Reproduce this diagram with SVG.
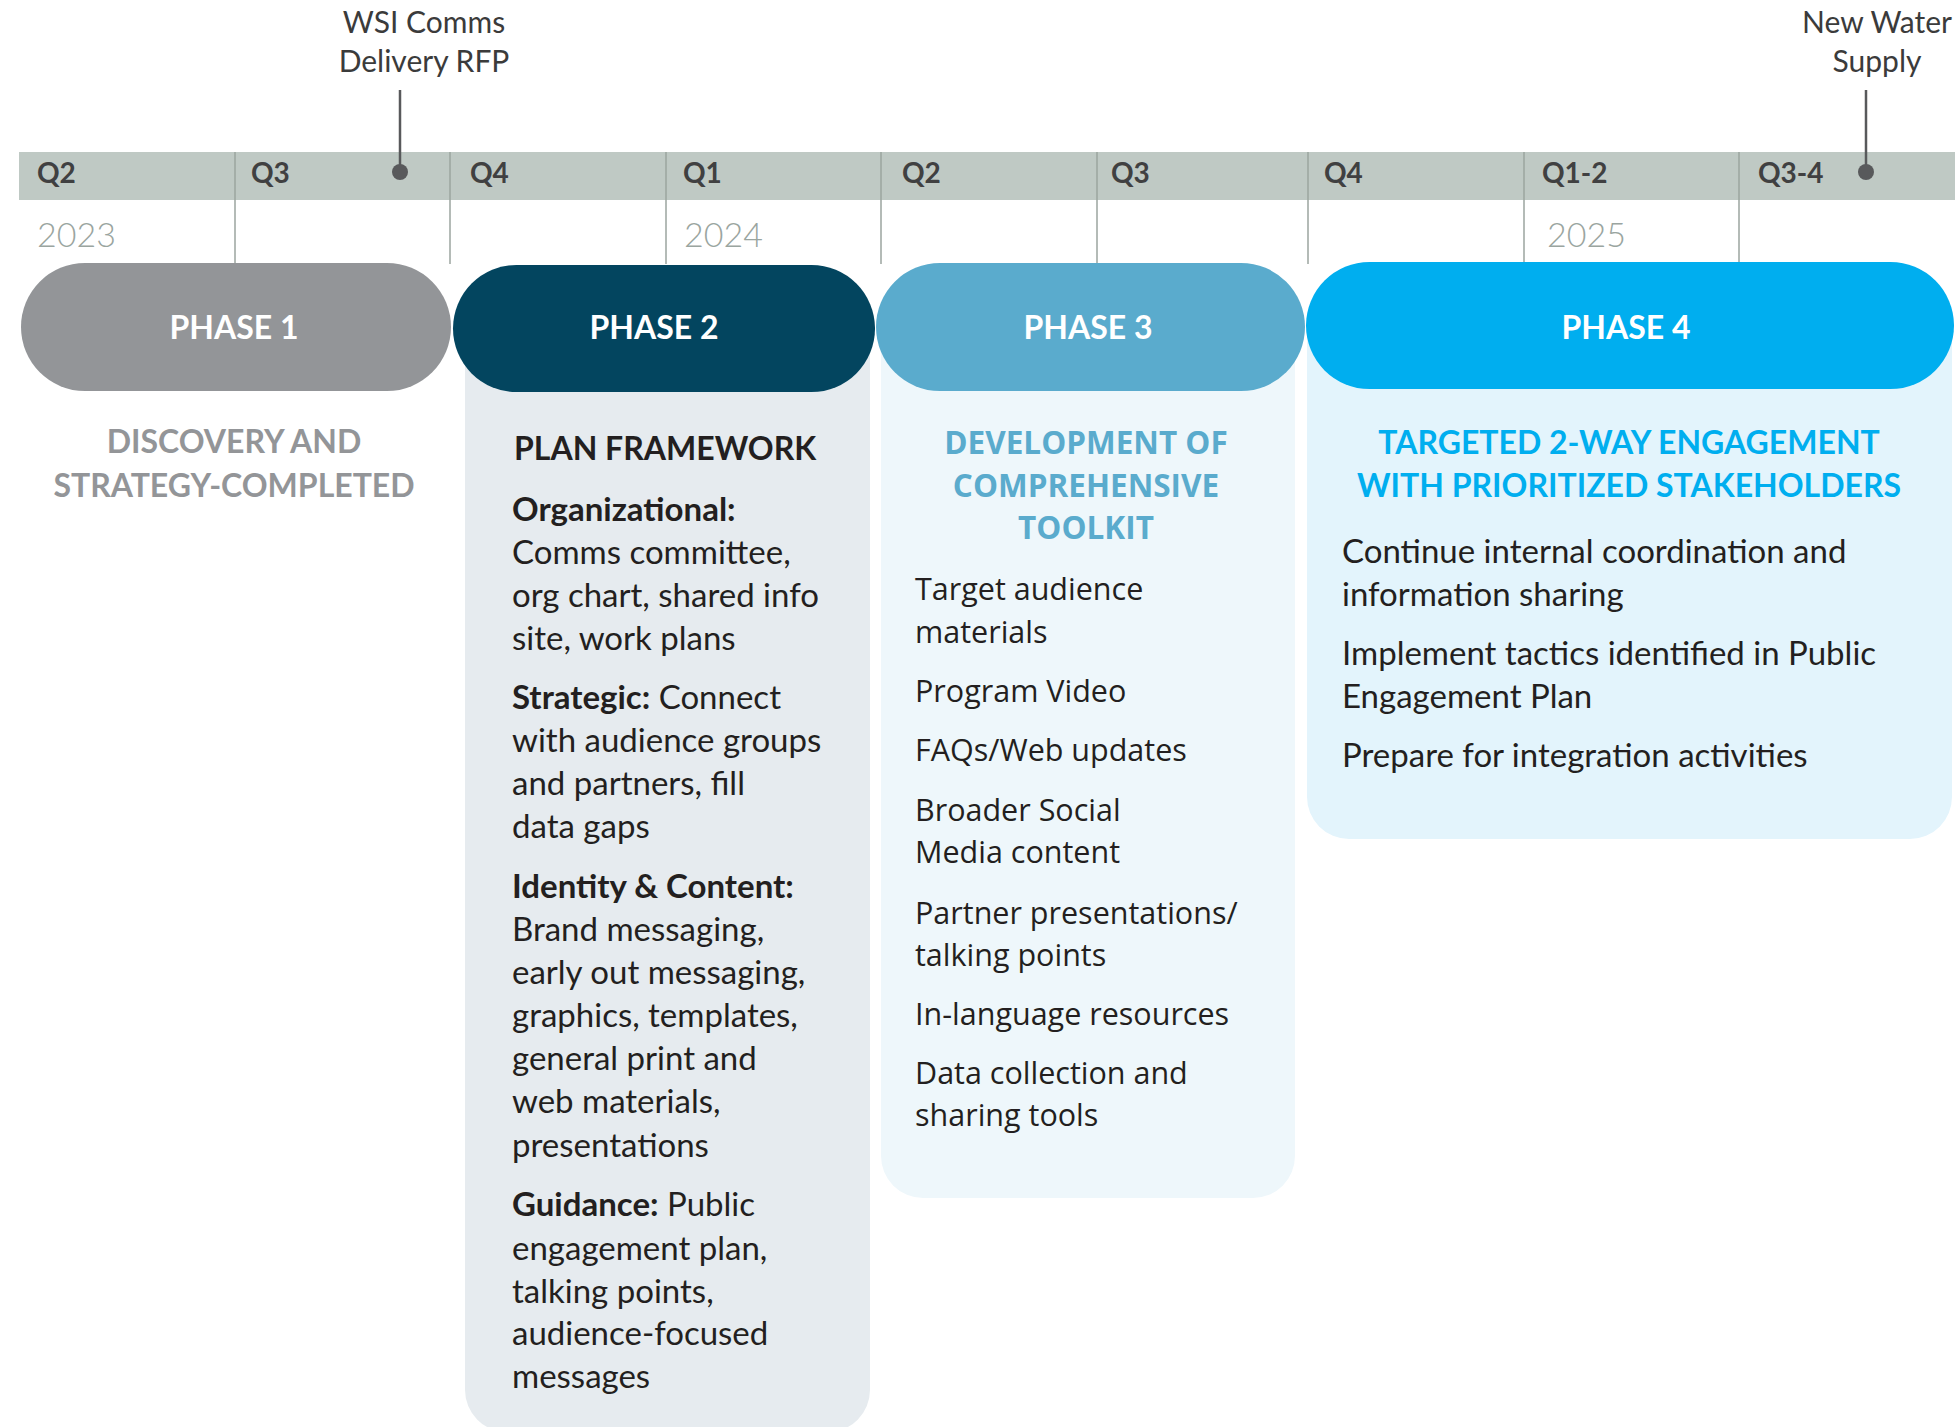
<svg xmlns="http://www.w3.org/2000/svg" width="1960" height="1427" viewBox="0 0 1960 1427">
<style>
.q{font-family:Lato,"Liberation Sans",sans-serif;font-weight:700;font-size:28px;fill:#404041}
.yr{font-family:Lato,"Liberation Sans",sans-serif;font-weight:300;font-size:34px;fill:#9aa5a0}
.ms{font-family:Lato,"Liberation Sans",sans-serif;font-size:30px;fill:#3b3b3b;text-anchor:middle}
.ph{font-family:Lato,"Liberation Sans",sans-serif;font-weight:700;font-size:32px;fill:#ffffff;text-anchor:middle}
.ttl{font-family:Lato,"Liberation Sans",sans-serif;font-weight:700;font-size:32px;text-anchor:middle}
.ttl2{font-family:Lato,"Liberation Sans",sans-serif;font-weight:700;font-size:32px;fill:#231f20}
.body{font-family:Lato,"Liberation Sans",sans-serif;font-size:33px;fill:#231f20}
.b{font-weight:700}
.body3{font-family:"Open Sans","Liberation Sans",sans-serif;font-size:30.5px;fill:#231f20}
.ttl3{font-family:"Open Sans","Liberation Sans",sans-serif;font-weight:700;font-size:31.5px;fill:#5aabcd;text-anchor:middle}
.div{stroke:#9ba59f;stroke-width:1.5}
.pin{stroke:#58595b;stroke-width:2.5}
</style>
<g id="timeline">
  <rect x="19" y="152" width="1936" height="48" fill="#bfc9c4"/>
  <g id="dividers">
    <line class="div" x1="235" y1="152" x2="235" y2="264"/>
    <line class="div" x1="450" y1="152" x2="450" y2="264"/>
    <line class="div" x1="666" y1="152" x2="666" y2="264"/>
    <line class="div" x1="881" y1="152" x2="881" y2="264"/>
    <line class="div" x1="1097" y1="152" x2="1097" y2="264"/>
    <line class="div" x1="1308" y1="152" x2="1308" y2="264"/>
    <line class="div" x1="1524" y1="152" x2="1524" y2="264"/>
    <line class="div" x1="1739" y1="152" x2="1739" y2="264"/>
  </g>
  <g id="quarters">
    <text class="q" x="37" y="183">Q2</text>
    <text class="q" x="251" y="183">Q3</text>
    <text class="q" x="470" y="183">Q4</text>
    <text class="q" x="683" y="183">Q1</text>
    <text class="q" x="902" y="183">Q2</text>
    <text class="q" x="1111" y="183">Q3</text>
    <text class="q" x="1324" y="183">Q4</text>
    <text class="q" x="1542" y="183">Q1-2</text>
    <text class="q" x="1758" y="183">Q3-4</text>
  </g>
  <g id="years">
    <text class="yr" x="37" y="247">2023</text>
    <text class="yr" x="684" y="247">2024</text>
    <text class="yr" x="1547" y="247">2025</text>
  </g>
</g>
<g id="milestone-wsi">
  <text class="ms" x="424" y="33">WSI Comms</text>
  <text class="ms" x="424" y="72">Delivery RFP</text>
  <line class="pin" x1="400" y1="90" x2="400" y2="170"/>
  <circle cx="400" cy="172" r="8" fill="#58595b"/>
</g>
<g id="milestone-water">
  <text class="ms" x="1877" y="33">New Water</text>
  <text class="ms" x="1877" y="72">Supply</text>
  <line class="pin" x1="1866" y1="90" x2="1866" y2="170"/>
  <circle cx="1866" cy="172" r="8" fill="#58595b"/>
</g>
<g id="connectors"></g>
<g id="phase1">
  <rect x="21" y="263" width="430" height="128" rx="64" fill="#939598"/>
  <text class="ph" x="234" y="339">PHASE 1</text>
  <text class="ttl" fill="#939598" x="234" y="453">DISCOVERY AND</text>
  <text class="ttl" fill="#939598" x="234" y="497">STRATEGY-COMPLETED</text>
</g>
<g id="phase2">
  <rect x="465" y="300" width="405" height="1132" rx="42" fill="#e6ebef"/>
  <rect x="453" y="265" width="422" height="127" rx="63.5" fill="#03455f"/>
  <text class="ph" x="654" y="339">PHASE 2</text>
  <text class="ttl2" x="514" y="460">PLAN FRAMEWORK</text>
  <text class="body">
    <tspan class="b" x="512" y="521">Organizational:</tspan>
    <tspan x="512" y="564">Comms committee,</tspan>
    <tspan x="512" y="607">org chart, shared info</tspan>
    <tspan x="512" y="650">site, work plans</tspan>
    <tspan class="b" x="512" y="709">Strategic:</tspan><tspan> Connect</tspan>
    <tspan x="512" y="752">with audience groups</tspan>
    <tspan x="512" y="795">and partners, fill</tspan>
    <tspan x="512" y="838">data gaps</tspan>
    <tspan class="b" x="512" y="898">Identity &amp; Content:</tspan>
    <tspan x="512" y="941">Brand messaging,</tspan>
    <tspan x="512" y="984">early out messaging,</tspan>
    <tspan x="512" y="1027">graphics, templates,</tspan>
    <tspan x="512" y="1070">general print and</tspan>
    <tspan x="512" y="1113">web materials,</tspan>
    <tspan x="512" y="1157">presentations</tspan>
    <tspan class="b" x="512" y="1216">Guidance:</tspan><tspan> Public</tspan>
    <tspan x="512" y="1260">engagement plan,</tspan>
    <tspan x="512" y="1303">talking points,</tspan>
    <tspan x="512" y="1345">audience-focused</tspan>
    <tspan x="512" y="1388">messages</tspan>
  </text>
</g>
<g id="phase3">
  <rect x="881" y="300" width="414" height="898" rx="42" fill="#eef7fb"/>
  <rect x="876" y="263" width="429" height="128" rx="64" fill="#5aabcd"/>
  <text class="ph" x="1088" y="339">PHASE 3</text>
  <text class="ttl3" x="1086" y="454">DEVELOPMENT OF</text>
  <text class="ttl3" x="1086" y="497">COMPREHENSIVE</text>
  <text class="ttl3" x="1086" y="539">TOOLKIT</text>
  <text class="body3">
    <tspan x="915" y="600">Target audience</tspan>
    <tspan x="915" y="643">materials</tspan>
    <tspan x="915" y="702">Program Video</tspan>
    <tspan x="915" y="761">FAQs/Web updates</tspan>
    <tspan x="915" y="821">Broader Social</tspan>
    <tspan x="915" y="863">Media content</tspan>
    <tspan x="915" y="924">Partner presentations/</tspan>
    <tspan x="915" y="966">talking points</tspan>
    <tspan x="915" y="1025">In-language resources</tspan>
    <tspan x="915" y="1084">Data collection and</tspan>
    <tspan x="915" y="1126">sharing tools</tspan>
  </text>
</g>
<g id="phase4">
  <rect x="1307" y="300" width="645" height="539" rx="42" fill="#e3f4fc"/>
  <rect x="1306" y="262" width="648" height="127" rx="63.5" fill="#00aeef"/>
  <text class="ph" x="1626" y="339">PHASE 4</text>
  <text class="ttl" fill="#00aeef" x="1629" y="454">TARGETED 2-WAY ENGAGEMENT</text>
  <text class="ttl" fill="#00aeef" x="1629" y="497">WITH PRIORITIZED STAKEHOLDERS</text>
  <text class="body">
    <tspan x="1342" y="563">Continue internal coordination and</tspan>
    <tspan x="1342" y="606">information sharing</tspan>
    <tspan x="1342" y="665">Implement tactics identified in Public</tspan>
    <tspan x="1342" y="708">Engagement Plan</tspan>
    <tspan x="1342" y="767">Prepare for integration activities</tspan>
  </text>
</g>
</svg>
